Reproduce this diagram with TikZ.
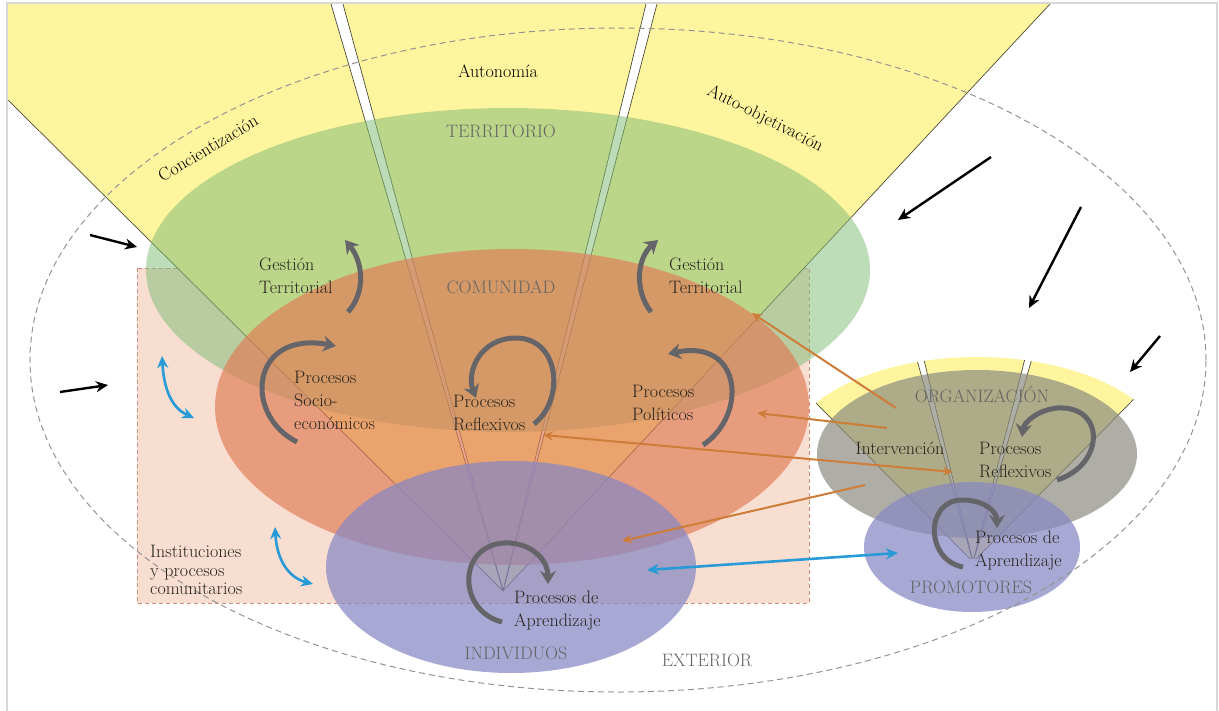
\documentclass[tikz,border=0pt]{standalone}
\usepackage{fontspec}
\usepackage{tikz}
\usetikzlibrary{arrows,arrows.meta}

\definecolor{fanyellow}{RGB}{255,245,158}
\definecolor{terrgreen}{RGB}{130,188,120}
\definecolor{comorange}{RGB}{225,122,84}
\definecolor{indpurple}{RGB}{135,135,195}
\definecolor{orggray}{RGB}{140,140,128}
\definecolor{instpink}{RGB}{248,222,208}
\definecolor{instdash}{RGB}{205,140,120}
\definecolor{raycolor}{RGB}{75,75,55}
\definecolor{cyclegray}{RGB}{100,100,105}
\definecolor{interorange}{RGB}{205,125,55}
\definecolor{linkblue}{RGB}{40,155,215}
\definecolor{labeltext}{RGB}{40,35,30}
\definecolor{captext}{RGB}{100,100,100}
\definecolor{framegray}{RGB}{215,215,215}

\begin{document}
\begin{tikzpicture}[x=1pt,y=-1pt,>=stealth',
    lbl/.style={font=\fontsize{18}{23}\selectfont,text=labeltext,align=left,inner sep=0pt},
    capname/.style={font=\fontsize{18}{23}\selectfont,text=captext,inner sep=0pt},
    push/.style={-{Stealth[length=12pt,width=11pt]},line width=2.4pt,black},
    turn/.style={-{Stealth[length=13pt,width=16pt]},line width=5pt,cyclegray},
    inter/.style={line width=2pt,interorange},
    link/.style={{Stealth[length=12pt,width=11pt]}-{Stealth[length=12pt,width=11pt]},line width=2.6pt,linkblue},
    ray/.style={raycolor,line width=0.7pt},
    dashline/.style={dash pattern=on 6pt off 4pt}]
  \useasboundingbox (0,0) rectangle (1219,710);

  \coordinate (apex) at (503,591);
  \coordinate (focus) at (973,562);

  \fill[instpink] (137,268) rectangle (809,603);
  \draw[instdash,line width=1pt,dash pattern=on 4pt off 3pt] (137,268) rectangle (809,603);

  \fill[fanyellow] (apex) -- (8,100) -- (8,4) -- (1050,4) -- cycle;
  \fill[white] (apex) -- (331,4) -- (343,4) -- cycle;
  \fill[white] (apex) -- (646,4) -- (657,4) -- cycle;
  \foreach \px/\py in {8/100,331/4,343/4,646/4,657/4,1050/4}
    \draw[ray] (apex) -- (\px,\py);

  \fill[terrgreen,opacity=.53] (508,270) ellipse [x radius=362pt, y radius=162pt];
  \fill[comorange,opacity=.66] (512,407) ellipse [x radius=297pt, y radius=158pt];
  \fill[indpurple,opacity=.72] (511,567) ellipse [x radius=185pt, y radius=106pt];

  \begin{scope}
    \clip (977,458) ellipse [x radius=192pt, y radius=101pt];
    \fill[fanyellow] (focus) -- (661,246) -- (1285,246) -- cycle;
    \fill[white] (focus) -- (909,331) -- (917,331) -- cycle;
    \fill[white] (focus) -- (1032,331) -- (1040,331) -- cycle;
    \foreach \px/\py in {661/246,909/331,917/331,1032/331,1040/331,1285/246}
      \draw[ray] (focus) -- (\px,\py);
  \end{scope}
  \fill[orggray,opacity=.7] (977,454) ellipse [x radius=160pt, y radius=84pt];
  \fill[indpurple,opacity=.72] (972,547) ellipse [x radius=108pt, y radius=65pt];

  \draw[gray!85,line width=1pt,dashline] (618,360) ellipse [x radius=588pt, y radius=332pt];
  \draw[framegray,line width=1.5pt] (7,712) -- (7,3) -- (1217,3) -- (1217,712);

  \node[lbl,text=black] (auto) at (498,71) {Autonomía};
  \node[lbl,text=black,rotate=31] (conc) at (208,148) {Concientización};
  \node[lbl,text=black,rotate=-27] (obj) at (765,119) {Auto-objetivación};
  \node[capname] (terr) at (501,131) {TERRITORIO};
  \node[capname] (com) at (501,287) {COMUNIDAD};
  \node[capname] (ind) at (516,653) {INDIVIDUOS};
  \node[capname] (org) at (982,395) {ORGANIZACIÓN};
  \node[capname] (prom) at (971,587) {PROMOTORES};
  \node[capname] (ext) at (707,660) {EXTERIOR};
  \node[lbl,anchor=west] (gtL) at (259,276) {Gestión\\Territorial};
  \node[lbl,anchor=west] (gtR) at (669,276) {Gestión\\Territorial};
  \node[lbl,anchor=west] (soc) at (294,400) {Procesos\\Socio-\\económicos};
  \node[lbl,anchor=west] (refC) at (453,413) {Procesos\\Reflexivos};
  \node[lbl,anchor=west] (pol) at (632,403) {Procesos\\Políticos};
  \node[lbl] (interv) at (900,448) {Intervención};
  \node[lbl,anchor=west] (refO) at (979,460) {Procesos\\Reflexivos};
  \node[lbl,anchor=west] (aprP) at (975,551) {Procesos de\\Aprendizaje};
  \node[lbl,anchor=west] (aprI) at (514,611) {Procesos de\\Aprendizaje};
  \node[lbl,anchor=west,font=\fontsize{18}{18.5}\selectfont] (inst) at (150,570) {Instituciones\\y procesos\\comunitarios};

  \coordinate (e1) at (90,235);   \coordinate (e1x) at (137,247);
  \coordinate (e2) at (60,392);   \coordinate (e2x) at (108,385);
  \coordinate (e3) at (991,157);  \coordinate (e3x) at (898,220);
  \coordinate (e4) at (1081,207); \coordinate (e4x) at (1029,308);
  \coordinate (e5) at (1160,336); \coordinate (e5x) at (1130,372);
  \path[push]
  (e1) edge (e1x)
  (e2) edge (e2x)
  (e3) edge (e3x)
  (e4) edge (e4x)
  (e5) edge (e5x);

  \coordinate (i1) at (896,408); \coordinate (i1x) at (752,313);
  \coordinate (i2) at (887,428); \coordinate (i2x) at (757,413);
  \coordinate (i3) at (543,435); \coordinate (i3x) at (953,472);
  \coordinate (i4) at (865,485); \coordinate (i4x) at (622,541);
  \path[inter,-{Stealth[length=10pt,width=9pt]}]
  (i1) edge (i1x)
  (i2) edge (i2x)
  (i4) edge (i4x);
  \path[inter,{Stealth[length=10pt,width=9pt]}-{Stealth[length=10pt,width=9pt]}] (i3) edge (i3x);

  \coordinate (b1) at (647,570); \coordinate (b1x) at (898,553);
  \coordinate (b2) at (162,356); \coordinate (b2x) at (194,418);
  \coordinate (b3) at (275,527); \coordinate (b3x) at (313,584);
  \draw[link] (b1) -- (b1x);
  \draw[link] (b2) .. controls +(2,34) and +(-22,-10) .. (b2x);
  \draw[link] (b3) .. controls +(2,35) and +(-23,-6) .. (b3x);

  \coordinate (t1) at (348,312); \coordinate (t1x) at (345,240);
  \coordinate (t2) at (651,312); \coordinate (t2x) at (658,240);
  \coordinate (t3) at (297,442); \coordinate (t3x) at (336,346);
  \coordinate (t4) at (534,424); \coordinate (t4x) at (476,398);
  \coordinate (t5) at (703,445); \coordinate (t5x) at (668,354);
  \coordinate (t6) at (502,622); \coordinate (t6x) at (548,584);
  \coordinate (t7) at (1057,480); \coordinate (t7x) at (1022,437);
  \coordinate (t8) at (963,567); \coordinate (t8x) at (997,528);
  \draw[turn] (t1) .. controls +(18,-20) and +(18,22) .. (t1x);
  \draw[turn] (t2) .. controls +(-17,-22) and +(-21,18) .. (t2x);
  \draw[turn] (t3) .. controls +(-54,-27) and +(-86,-16) .. (t3x);
  \draw[turn] (t4) .. controls +(31,-24) and +(44,0) .. (516,338)
    .. controls +(-36,0) and +(-10,-26) .. (t4x);
  \draw[turn] (t5) .. controls +(45,-30) and +(74,-16) .. (t5x);
  \draw[turn] (t6) .. controls +(-47,-12) and +(-52,-3) .. (510,543)
    .. controls +(25,2) and +(0,-22) .. (t6x);
  \draw[turn] (t7) .. controls +(48,-15) and +(49,-3) .. (1057,408)
    .. controls +(-19,2) and +(2,-15) .. (t7x);
  \draw[turn] (t8) .. controls +(-38,-7) and +(-37,0) .. (962,500)
    .. controls +(23,0) and +(0,-16) .. (t8x);
\end{tikzpicture}
\end{document}
